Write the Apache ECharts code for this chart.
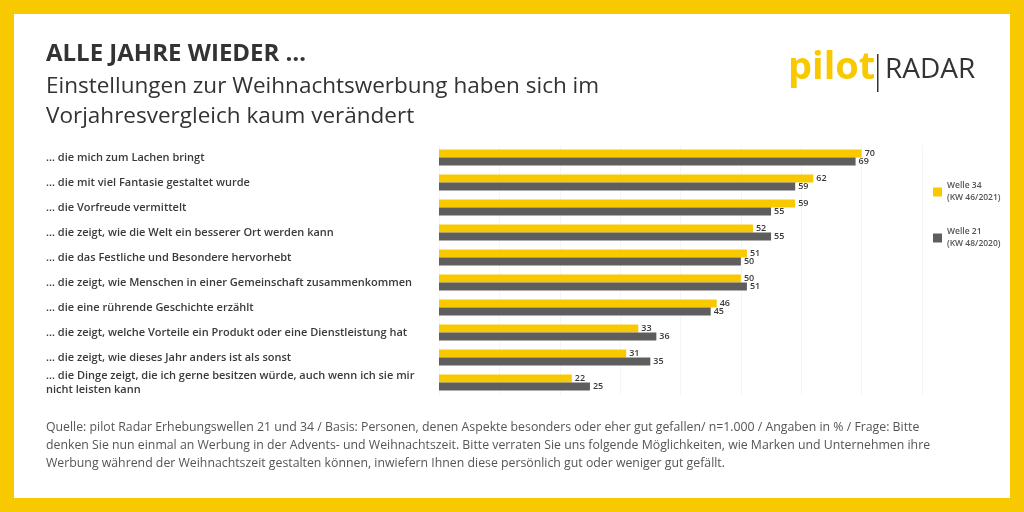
<!DOCTYPE html>
<html><head><meta charset="utf-8">
<script src="https://cdn.jsdelivr.net/npm/echarts@6/dist/echarts.min.js"></script>
<style>html,body{margin:0;padding:0;background:#fff}#c{width:1024px;height:512px}</style>
</head><body><div id="c"></div>
<script>
const categories = [
  '… die mich zum Lachen bringt',
  '… die mit viel Fantasie gestaltet wurde',
  '… die Vorfreude vermittelt',
  '… die zeigt, wie die Welt ein besserer Ort werden kann',
  '… die das Festliche und Besondere hervorhebt',
  '… die zeigt, wie Menschen in einer Gemeinschaft zusammenkommen',
  '… die eine rührende Geschichte erzählt',
  '… die zeigt, welche Vorteile ein Produkt oder eine Dienstleistung hat',
  '… die zeigt, wie dieses Jahr anders ist als sonst',
  '… die Dinge zeigt, die ich gerne besitzen würde, auch wenn ich sie mir\nnicht leisten kann'
];
const welle34 = [70, 62, 59, 52, 51, 50, 46, 33, 31, 22];
const welle21 = [69, 59, 55, 55, 50, 51, 45, 36, 35, 25];
const seriesNames = ['Welle 34', 'Welle 21'];
const legendSub = ['(KW 46/2021)', '(KW 48/2020)'];

const YEL = '#f9c900', GRY = '#5e5e5e', TXT = '#3a3a3a';
const font = '"Open Sans","Noto Sans",sans-serif';

const chart = echarts.init(document.getElementById('c'));
const barLabel = { show: true, position: 'right', distance: 3, fontSize: 9, fontWeight: 600, color: TXT, fontFamily: font };

chart.setOption({
  animation: false,
  grid: { left: 439, right: 102, top: 145, bottom: 117 },
  xAxis: {
    type: 'value', min: 0, max: 80, interval: 10,
    axisLabel: { show: false }, axisLine: { show: false }, axisTick: { show: false },
    splitLine: { show: true, lineStyle: { color: '#f5f5f5' } }
  },
  yAxis: {
    type: 'category', inverse: true, data: categories,
    axisLine: { show: false }, axisTick: { show: false },
    axisLabel: {
      align: 'left', margin: 393, fontSize: 11, fontWeight: 600, color: TXT, fontFamily: font,
      lineHeight: 14
    }
  },
  legend: {
    orient: 'vertical', left: 928, top: 175, itemWidth: 9, itemHeight: 9,
    itemGap: 22, icon: 'rect',
    formatter: (n) => n + '\n' + legendSub[seriesNames.indexOf(n)],
    textStyle: { fontSize: 8.5, fontWeight: 600, color: '#555', fontFamily: font, lineHeight: 12 }
  },
  series: [
    { name: seriesNames[0], type: 'bar', data: welle34, barWidth: 8, barGap: '0%',
      itemStyle: { color: YEL }, label: barLabel },
    { name: seriesNames[1], type: 'bar', data: welle21, barWidth: 8, barGap: '0%',
      itemStyle: { color: GRY }, label: barLabel }
  ],
  graphic: [
    { type: 'rect', x: 0, y: 0, shape: { width: 1024, height: 14 }, style: { fill: YEL }, silent: true },
    { type: 'rect', x: 0, y: 498, shape: { width: 1024, height: 14 }, style: { fill: YEL }, silent: true },
    { type: 'rect', x: 0, y: 0, shape: { width: 14, height: 512 }, style: { fill: YEL }, silent: true },
    { type: 'rect', x: 1010, y: 0, shape: { width: 14, height: 512 }, style: { fill: YEL }, silent: true },
    { type: 'text', x: 46, y: 42, style: { text: 'ALLE JAHRE WIEDER …', font: 'bold 24px ' + font, fill: '#333' } },
    { type: 'text', x: 46, y: 72, style: {
      text: 'Einstellungen zur Weihnachtswerbung haben sich im\nVorjahresvergleich kaum verändert',
      font: '22.5px ' + font, fill: '#333', lineHeight: 30 } },
    { type: 'text', x: 788, y: 49, style: { text: 'pilot', font: 'bold 38px ' + font, fill: YEL } },
    { type: 'rect', x: 877, y: 54, shape: { width: 1.5, height: 38 }, style: { fill: '#333' } },
    { type: 'text', x: 885, y: 56, style: { text: 'RADAR', font: '28px ' + font, fill: '#333' } },
    { type: 'text', x: 46, y: 418, style: {
      text: 'Quelle: pilot Radar Erhebungswellen 21 und 34 / Basis: Personen, denen Aspekte besonders oder eher gut gefallen/ n=1.000 / Angaben in % / Frage: Bitte\ndenken Sie nun einmal an Werbung in der Advents- und Weihnachtszeit. Bitte verraten Sie uns folgende Möglichkeiten, wie Marken und Unternehmen ihre\nWerbung während der Weihnachtszeit gestalten können, inwiefern Ihnen diese persönlich gut oder weniger gut gefällt.',
      font: '12.3px ' + font, fill: '#555', lineHeight: 18 } }
  ]
});
</script></body></html>
